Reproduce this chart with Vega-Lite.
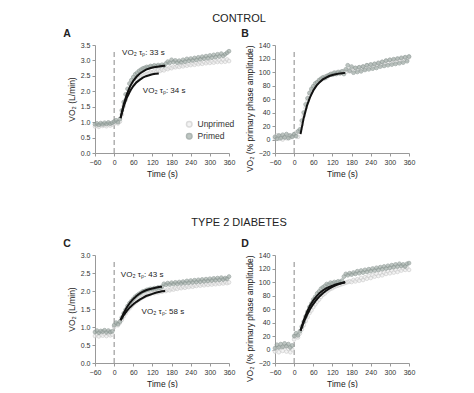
{
"$schema":"https://vega.github.io/schema/vega-lite/v6.json",
"padding":{"left":63,"top":12,"right":5,"bottom":0},
"background":"white",
"datasets":{
"zero":[{"p":"A","t":0,"v":0,"v2":3.35},{"p":"B","t":0,"v":-20,"v2":131},{"p":"C","t":0,"v":0,"v2":2.83},{"p":"D","t":0,"v":-20,"v2":132}],
"notes":[{"p":"A","t":25,"v":3.24,"s":"VO₂ τₚ: 33 s"},{"p":"A","t":90,"v":2.02,"s":"VO₂ τₚ: 34 s"},{"p":"C","t":21,"v":2.45,"s":"VO₂ τₚ: 43 s"},{"p":"C","t":86,"v":1.42,"s":"VO₂ τₚ: 58 s"}],
"fits":[
{"p":"A","c":"1","t":20,"v":1.13},{"p":"A","c":"1","t":30,"v":1.58},{"p":"A","c":"1","t":40,"v":1.91},{"p":"A","c":"1","t":50,"v":2.16},{"p":"A","c":"1","t":60,"v":2.34},{"p":"A","c":"1","t":70,"v":2.47},{"p":"A","c":"1","t":80,"v":2.57},{"p":"A","c":"1","t":90,"v":2.64},{"p":"A","c":"1","t":100,"v":2.7},{"p":"A","c":"1","t":110,"v":2.74},{"p":"A","c":"1","t":120,"v":2.77},{"p":"A","c":"1","t":130,"v":2.79},{"p":"A","c":"1","t":140,"v":2.8},{"p":"A","c":"1","t":150,"v":2.82},{"p":"A","c":"1","t":160,"v":2.83},
{"p":"A","c":"2","t":20,"v":1.13},{"p":"A","c":"2","t":30,"v":1.51},{"p":"A","c":"2","t":40,"v":1.8},{"p":"A","c":"2","t":50,"v":2.01},{"p":"A","c":"2","t":60,"v":2.17},{"p":"A","c":"2","t":70,"v":2.29},{"p":"A","c":"2","t":80,"v":2.37},{"p":"A","c":"2","t":90,"v":2.44},{"p":"A","c":"2","t":100,"v":2.49},{"p":"A","c":"2","t":110,"v":2.52},{"p":"A","c":"2","t":120,"v":2.55},{"p":"A","c":"2","t":130,"v":2.57},{"p":"A","c":"2","t":140,"v":2.58},
{"p":"B","c":"1","t":20,"v":8},{"p":"B","c":"1","t":30,"v":32},{"p":"B","c":"1","t":40,"v":49.8},{"p":"B","c":"1","t":50,"v":62.9},{"p":"B","c":"1","t":60,"v":72.6},{"p":"B","c":"1","t":70,"v":79.8},{"p":"B","c":"1","t":80,"v":85},{"p":"B","c":"1","t":90,"v":89},{"p":"B","c":"1","t":100,"v":91.8},{"p":"B","c":"1","t":110,"v":94},{"p":"B","c":"1","t":120,"v":95.6},{"p":"B","c":"1","t":130,"v":96.7},{"p":"B","c":"1","t":140,"v":97.6},{"p":"B","c":"1","t":150,"v":98.3},{"p":"B","c":"1","t":160,"v":98.7},
{"p":"C","c":"1","t":20,"v":1.19},{"p":"C","c":"1","t":30,"v":1.39},{"p":"C","c":"1","t":40,"v":1.55},{"p":"C","c":"1","t":50,"v":1.68},{"p":"C","c":"1","t":60,"v":1.78},{"p":"C","c":"1","t":70,"v":1.86},{"p":"C","c":"1","t":80,"v":1.93},{"p":"C","c":"1","t":90,"v":1.98},{"p":"C","c":"1","t":100,"v":2.02},{"p":"C","c":"1","t":110,"v":2.05},{"p":"C","c":"1","t":120,"v":2.07},{"p":"C","c":"1","t":130,"v":2.09},{"p":"C","c":"1","t":140,"v":2.11},{"p":"C","c":"1","t":150,"v":2.12},
{"p":"C","c":"2","t":20,"v":1.19},{"p":"C","c":"2","t":30,"v":1.33},{"p":"C","c":"2","t":40,"v":1.45},{"p":"C","c":"2","t":50,"v":1.55},{"p":"C","c":"2","t":60,"v":1.63},{"p":"C","c":"2","t":70,"v":1.7},{"p":"C","c":"2","t":80,"v":1.76},{"p":"C","c":"2","t":90,"v":1.81},{"p":"C","c":"2","t":100,"v":1.86},{"p":"C","c":"2","t":110,"v":1.89},{"p":"C","c":"2","t":120,"v":1.92},{"p":"C","c":"2","t":130,"v":1.95},{"p":"C","c":"2","t":140,"v":1.97},{"p":"C","c":"2","t":150,"v":1.99},{"p":"C","c":"2","t":160,"v":2.0},
{"p":"D","c":"1","t":20,"v":28},{"p":"D","c":"1","t":30,"v":43.4},{"p":"D","c":"1","t":40,"v":55.5},{"p":"D","c":"1","t":50,"v":65.1},{"p":"D","c":"1","t":60,"v":72.8},{"p":"D","c":"1","t":70,"v":78.8},{"p":"D","c":"1","t":80,"v":83.6},{"p":"D","c":"1","t":90,"v":87.5},{"p":"D","c":"1","t":100,"v":90.5},{"p":"D","c":"1","t":110,"v":92.9},{"p":"D","c":"1","t":120,"v":94.7},{"p":"D","c":"1","t":130,"v":96.3},{"p":"D","c":"1","t":140,"v":97.5},{"p":"D","c":"1","t":150,"v":98.4},{"p":"D","c":"1","t":160,"v":99.1},
{"p":"D","c":"2","t":20,"v":28},{"p":"D","c":"2","t":30,"v":40.6},{"p":"D","c":"2","t":40,"v":51.1},{"p":"D","c":"2","t":50,"v":59.9},{"p":"D","c":"2","t":60,"v":67.3},{"p":"D","c":"2","t":70,"v":73.7},{"p":"D","c":"2","t":80,"v":79},{"p":"D","c":"2","t":90,"v":83.4},{"p":"D","c":"2","t":100,"v":87.1},{"p":"D","c":"2","t":110,"v":90.3},{"p":"D","c":"2","t":120,"v":92.9},{"p":"D","c":"2","t":130,"v":95.2},{"p":"D","c":"2","t":140,"v":97},{"p":"D","c":"2","t":150,"v":98.6},{"p":"D","c":"2","t":160,"v":99.9}
],
"pts":[
{"p":"A","g":"Unprimed","t":-60,"v":0.86},{"p":"A","g":"Unprimed","t":-54,"v":0.9},{"p":"A","g":"Unprimed","t":-48,"v":0.85},{"p":"A","g":"Unprimed","t":-42,"v":0.92},{"p":"A","g":"Unprimed","t":-36,"v":0.88},{"p":"A","g":"Unprimed","t":-30,"v":0.91},{"p":"A","g":"Unprimed","t":-24,"v":0.87},{"p":"A","g":"Unprimed","t":-18,"v":0.93},{"p":"A","g":"Unprimed","t":-12,"v":0.89},{"p":"A","g":"Unprimed","t":-6,"v":0.92},{"p":"A","g":"Unprimed","t":0,"v":0.95},{"p":"A","g":"Unprimed","t":6,"v":1.0},{"p":"A","g":"Unprimed","t":12,"v":0.96},{"p":"A","g":"Unprimed","t":18,"v":1.02},{"p":"A","g":"Unprimed","t":24,"v":1.25},{"p":"A","g":"Unprimed","t":30,"v":1.52},{"p":"A","g":"Unprimed","t":36,"v":1.72},{"p":"A","g":"Unprimed","t":42,"v":1.9},{"p":"A","g":"Unprimed","t":48,"v":2.02},{"p":"A","g":"Unprimed","t":54,"v":2.15},{"p":"A","g":"Unprimed","t":60,"v":2.22},{"p":"A","g":"Unprimed","t":66,"v":2.3},{"p":"A","g":"Unprimed","t":72,"v":2.36},{"p":"A","g":"Unprimed","t":78,"v":2.42},{"p":"A","g":"Unprimed","t":84,"v":2.45},{"p":"A","g":"Unprimed","t":90,"v":2.5},{"p":"A","g":"Unprimed","t":96,"v":2.53},{"p":"A","g":"Unprimed","t":102,"v":2.56},{"p":"A","g":"Unprimed","t":108,"v":2.58},{"p":"A","g":"Unprimed","t":114,"v":2.62},{"p":"A","g":"Unprimed","t":120,"v":2.6},{"p":"A","g":"Unprimed","t":126,"v":2.65},{"p":"A","g":"Unprimed","t":132,"v":2.63},{"p":"A","g":"Unprimed","t":138,"v":2.68},{"p":"A","g":"Unprimed","t":144,"v":2.66},{"p":"A","g":"Unprimed","t":150,"v":2.7},{"p":"A","g":"Unprimed","t":156,"v":2.68},{"p":"A","g":"Unprimed","t":162,"v":2.74},{"p":"A","g":"Unprimed","t":168,"v":2.72},{"p":"A","g":"Unprimed","t":174,"v":2.77},{"p":"A","g":"Unprimed","t":180,"v":2.75},{"p":"A","g":"Unprimed","t":186,"v":2.8},{"p":"A","g":"Unprimed","t":192,"v":2.78},{"p":"A","g":"Unprimed","t":198,"v":2.82},{"p":"A","g":"Unprimed","t":204,"v":2.79},{"p":"A","g":"Unprimed","t":210,"v":2.84},{"p":"A","g":"Unprimed","t":216,"v":2.81},{"p":"A","g":"Unprimed","t":222,"v":2.86},{"p":"A","g":"Unprimed","t":228,"v":2.83},{"p":"A","g":"Unprimed","t":234,"v":2.88},{"p":"A","g":"Unprimed","t":240,"v":2.85},{"p":"A","g":"Unprimed","t":246,"v":2.9},{"p":"A","g":"Unprimed","t":252,"v":2.86},{"p":"A","g":"Unprimed","t":258,"v":2.92},{"p":"A","g":"Unprimed","t":264,"v":2.88},{"p":"A","g":"Unprimed","t":270,"v":2.93},{"p":"A","g":"Unprimed","t":276,"v":2.89},{"p":"A","g":"Unprimed","t":282,"v":2.95},{"p":"A","g":"Unprimed","t":288,"v":2.91},{"p":"A","g":"Unprimed","t":294,"v":2.96},{"p":"A","g":"Unprimed","t":300,"v":2.92},{"p":"A","g":"Unprimed","t":306,"v":2.97},{"p":"A","g":"Unprimed","t":312,"v":2.93},{"p":"A","g":"Unprimed","t":318,"v":2.99},{"p":"A","g":"Unprimed","t":324,"v":2.95},{"p":"A","g":"Unprimed","t":330,"v":3.0},{"p":"A","g":"Unprimed","t":336,"v":2.95},{"p":"A","g":"Unprimed","t":342,"v":3.02},{"p":"A","g":"Unprimed","t":348,"v":2.96},{"p":"A","g":"Unprimed","t":354,"v":3.03},{"p":"A","g":"Unprimed","t":360,"v":2.98},
{"p":"A","g":"Primed","t":-60,"v":0.93},{"p":"A","g":"Primed","t":-54,"v":0.96},{"p":"A","g":"Primed","t":-48,"v":0.91},{"p":"A","g":"Primed","t":-42,"v":0.97},{"p":"A","g":"Primed","t":-36,"v":0.93},{"p":"A","g":"Primed","t":-30,"v":0.98},{"p":"A","g":"Primed","t":-24,"v":0.94},{"p":"A","g":"Primed","t":-18,"v":0.99},{"p":"A","g":"Primed","t":-12,"v":0.95},{"p":"A","g":"Primed","t":-6,"v":0.98},{"p":"A","g":"Primed","t":0,"v":1.02},{"p":"A","g":"Primed","t":6,"v":1.06},{"p":"A","g":"Primed","t":12,"v":1.0},{"p":"A","g":"Primed","t":18,"v":1.1},{"p":"A","g":"Primed","t":24,"v":1.38},{"p":"A","g":"Primed","t":30,"v":1.65},{"p":"A","g":"Primed","t":36,"v":1.9},{"p":"A","g":"Primed","t":42,"v":2.08},{"p":"A","g":"Primed","t":48,"v":2.25},{"p":"A","g":"Primed","t":54,"v":2.36},{"p":"A","g":"Primed","t":60,"v":2.46},{"p":"A","g":"Primed","t":66,"v":2.55},{"p":"A","g":"Primed","t":72,"v":2.6},{"p":"A","g":"Primed","t":78,"v":2.66},{"p":"A","g":"Primed","t":84,"v":2.7},{"p":"A","g":"Primed","t":90,"v":2.74},{"p":"A","g":"Primed","t":96,"v":2.76},{"p":"A","g":"Primed","t":102,"v":2.79},{"p":"A","g":"Primed","t":108,"v":2.78},{"p":"A","g":"Primed","t":114,"v":2.82},{"p":"A","g":"Primed","t":120,"v":2.8},{"p":"A","g":"Primed","t":126,"v":2.84},{"p":"A","g":"Primed","t":132,"v":2.81},{"p":"A","g":"Primed","t":138,"v":2.85},{"p":"A","g":"Primed","t":144,"v":2.82},{"p":"A","g":"Primed","t":150,"v":2.86},{"p":"A","g":"Primed","t":156,"v":2.83},{"p":"A","g":"Primed","t":162,"v":2.9},{"p":"A","g":"Primed","t":168,"v":2.96},{"p":"A","g":"Primed","t":174,"v":2.92},{"p":"A","g":"Primed","t":180,"v":3.02},{"p":"A","g":"Primed","t":186,"v":2.95},{"p":"A","g":"Primed","t":192,"v":3.0},{"p":"A","g":"Primed","t":198,"v":2.93},{"p":"A","g":"Primed","t":204,"v":2.99},{"p":"A","g":"Primed","t":210,"v":2.94},{"p":"A","g":"Primed","t":216,"v":3.02},{"p":"A","g":"Primed","t":222,"v":2.96},{"p":"A","g":"Primed","t":228,"v":3.05},{"p":"A","g":"Primed","t":234,"v":2.99},{"p":"A","g":"Primed","t":240,"v":3.06},{"p":"A","g":"Primed","t":246,"v":3.0},{"p":"A","g":"Primed","t":252,"v":3.08},{"p":"A","g":"Primed","t":258,"v":3.02},{"p":"A","g":"Primed","t":264,"v":3.1},{"p":"A","g":"Primed","t":270,"v":3.04},{"p":"A","g":"Primed","t":276,"v":3.12},{"p":"A","g":"Primed","t":282,"v":3.06},{"p":"A","g":"Primed","t":288,"v":3.14},{"p":"A","g":"Primed","t":294,"v":3.07},{"p":"A","g":"Primed","t":300,"v":3.16},{"p":"A","g":"Primed","t":306,"v":3.09},{"p":"A","g":"Primed","t":312,"v":3.18},{"p":"A","g":"Primed","t":318,"v":3.11},{"p":"A","g":"Primed","t":324,"v":3.2},{"p":"A","g":"Primed","t":330,"v":3.13},{"p":"A","g":"Primed","t":336,"v":3.22},{"p":"A","g":"Primed","t":342,"v":3.15},{"p":"A","g":"Primed","t":348,"v":3.2},{"p":"A","g":"Primed","t":354,"v":3.25},{"p":"A","g":"Primed","t":360,"v":3.3},
{"p":"B","g":"Unprimed","t":-60,"v":2},{"p":"B","g":"Unprimed","t":-54,"v":6},{"p":"B","g":"Unprimed","t":-48,"v":1},{"p":"B","g":"Unprimed","t":-42,"v":5},{"p":"B","g":"Unprimed","t":-36,"v":0},{"p":"B","g":"Unprimed","t":-30,"v":4},{"p":"B","g":"Unprimed","t":-24,"v":2},{"p":"B","g":"Unprimed","t":-18,"v":6},{"p":"B","g":"Unprimed","t":-12,"v":3},{"p":"B","g":"Unprimed","t":-6,"v":5},{"p":"B","g":"Unprimed","t":0,"v":6},{"p":"B","g":"Unprimed","t":6,"v":10},{"p":"B","g":"Unprimed","t":12,"v":4},{"p":"B","g":"Unprimed","t":18,"v":12},{"p":"B","g":"Unprimed","t":24,"v":22},{"p":"B","g":"Unprimed","t":30,"v":35},{"p":"B","g":"Unprimed","t":36,"v":47},{"p":"B","g":"Unprimed","t":42,"v":57},{"p":"B","g":"Unprimed","t":48,"v":65},{"p":"B","g":"Unprimed","t":54,"v":72},{"p":"B","g":"Unprimed","t":60,"v":76},{"p":"B","g":"Unprimed","t":66,"v":80},{"p":"B","g":"Unprimed","t":72,"v":84},{"p":"B","g":"Unprimed","t":78,"v":86},{"p":"B","g":"Unprimed","t":84,"v":89},{"p":"B","g":"Unprimed","t":90,"v":90},{"p":"B","g":"Unprimed","t":96,"v":93},{"p":"B","g":"Unprimed","t":102,"v":92},{"p":"B","g":"Unprimed","t":108,"v":95},{"p":"B","g":"Unprimed","t":114,"v":96},{"p":"B","g":"Unprimed","t":120,"v":98},{"p":"B","g":"Unprimed","t":126,"v":97},{"p":"B","g":"Unprimed","t":132,"v":99},{"p":"B","g":"Unprimed","t":138,"v":98},{"p":"B","g":"Unprimed","t":144,"v":100},{"p":"B","g":"Unprimed","t":150,"v":99},{"p":"B","g":"Unprimed","t":156,"v":101},{"p":"B","g":"Unprimed","t":162,"v":100},{"p":"B","g":"Unprimed","t":168,"v":103},{"p":"B","g":"Unprimed","t":174,"v":101},{"p":"B","g":"Unprimed","t":180,"v":105},{"p":"B","g":"Unprimed","t":186,"v":102},{"p":"B","g":"Unprimed","t":192,"v":106},{"p":"B","g":"Unprimed","t":198,"v":103},{"p":"B","g":"Unprimed","t":204,"v":107},{"p":"B","g":"Unprimed","t":210,"v":104},{"p":"B","g":"Unprimed","t":216,"v":108},{"p":"B","g":"Unprimed","t":222,"v":105},{"p":"B","g":"Unprimed","t":228,"v":110},{"p":"B","g":"Unprimed","t":234,"v":107},{"p":"B","g":"Unprimed","t":240,"v":111},{"p":"B","g":"Unprimed","t":246,"v":108},{"p":"B","g":"Unprimed","t":252,"v":112},{"p":"B","g":"Unprimed","t":258,"v":110},{"p":"B","g":"Unprimed","t":264,"v":114},{"p":"B","g":"Unprimed","t":270,"v":111},{"p":"B","g":"Unprimed","t":276,"v":115},{"p":"B","g":"Unprimed","t":282,"v":112},{"p":"B","g":"Unprimed","t":288,"v":116},{"p":"B","g":"Unprimed","t":294,"v":113},{"p":"B","g":"Unprimed","t":300,"v":118},{"p":"B","g":"Unprimed","t":306,"v":114},{"p":"B","g":"Unprimed","t":312,"v":117},{"p":"B","g":"Unprimed","t":318,"v":115},{"p":"B","g":"Unprimed","t":324,"v":119},{"p":"B","g":"Unprimed","t":330,"v":116},{"p":"B","g":"Unprimed","t":336,"v":120},{"p":"B","g":"Unprimed","t":342,"v":117},{"p":"B","g":"Unprimed","t":348,"v":121},{"p":"B","g":"Unprimed","t":354,"v":118},{"p":"B","g":"Unprimed","t":360,"v":122},
{"p":"B","g":"Primed","t":-60,"v":4},{"p":"B","g":"Primed","t":-54,"v":1},{"p":"B","g":"Primed","t":-48,"v":6},{"p":"B","g":"Primed","t":-42,"v":2},{"p":"B","g":"Primed","t":-36,"v":7},{"p":"B","g":"Primed","t":-30,"v":3},{"p":"B","g":"Primed","t":-24,"v":8},{"p":"B","g":"Primed","t":-18,"v":2},{"p":"B","g":"Primed","t":-12,"v":6},{"p":"B","g":"Primed","t":-6,"v":4},{"p":"B","g":"Primed","t":0,"v":8},{"p":"B","g":"Primed","t":6,"v":5},{"p":"B","g":"Primed","t":12,"v":12},{"p":"B","g":"Primed","t":18,"v":15},{"p":"B","g":"Primed","t":24,"v":28},{"p":"B","g":"Primed","t":30,"v":40},{"p":"B","g":"Primed","t":36,"v":52},{"p":"B","g":"Primed","t":42,"v":61},{"p":"B","g":"Primed","t":48,"v":69},{"p":"B","g":"Primed","t":54,"v":75},{"p":"B","g":"Primed","t":60,"v":79},{"p":"B","g":"Primed","t":66,"v":83},{"p":"B","g":"Primed","t":72,"v":85},{"p":"B","g":"Primed","t":78,"v":88},{"p":"B","g":"Primed","t":84,"v":90},{"p":"B","g":"Primed","t":90,"v":92},{"p":"B","g":"Primed","t":96,"v":91},{"p":"B","g":"Primed","t":102,"v":94},{"p":"B","g":"Primed","t":108,"v":95},{"p":"B","g":"Primed","t":114,"v":97},{"p":"B","g":"Primed","t":120,"v":96},{"p":"B","g":"Primed","t":126,"v":99},{"p":"B","g":"Primed","t":132,"v":97},{"p":"B","g":"Primed","t":138,"v":100},{"p":"B","g":"Primed","t":144,"v":98},{"p":"B","g":"Primed","t":150,"v":101},{"p":"B","g":"Primed","t":156,"v":97},{"p":"B","g":"Primed","t":162,"v":104},{"p":"B","g":"Primed","t":168,"v":110},{"p":"B","g":"Primed","t":174,"v":102},{"p":"B","g":"Primed","t":180,"v":108},{"p":"B","g":"Primed","t":186,"v":99},{"p":"B","g":"Primed","t":192,"v":106},{"p":"B","g":"Primed","t":198,"v":100},{"p":"B","g":"Primed","t":204,"v":107},{"p":"B","g":"Primed","t":210,"v":101},{"p":"B","g":"Primed","t":216,"v":108},{"p":"B","g":"Primed","t":222,"v":103},{"p":"B","g":"Primed","t":228,"v":110},{"p":"B","g":"Primed","t":234,"v":104},{"p":"B","g":"Primed","t":240,"v":111},{"p":"B","g":"Primed","t":246,"v":105},{"p":"B","g":"Primed","t":252,"v":112},{"p":"B","g":"Primed","t":258,"v":106},{"p":"B","g":"Primed","t":264,"v":113},{"p":"B","g":"Primed","t":270,"v":108},{"p":"B","g":"Primed","t":276,"v":115},{"p":"B","g":"Primed","t":282,"v":109},{"p":"B","g":"Primed","t":288,"v":117},{"p":"B","g":"Primed","t":294,"v":110},{"p":"B","g":"Primed","t":300,"v":118},{"p":"B","g":"Primed","t":306,"v":111},{"p":"B","g":"Primed","t":312,"v":119},{"p":"B","g":"Primed","t":318,"v":112},{"p":"B","g":"Primed","t":324,"v":120},{"p":"B","g":"Primed","t":330,"v":113},{"p":"B","g":"Primed","t":336,"v":121},{"p":"B","g":"Primed","t":342,"v":114},{"p":"B","g":"Primed","t":348,"v":122},{"p":"B","g":"Primed","t":354,"v":116},{"p":"B","g":"Primed","t":360,"v":123},
{"p":"C","g":"Unprimed","t":-60,"v":0.75},{"p":"C","g":"Unprimed","t":-54,"v":0.8},{"p":"C","g":"Unprimed","t":-48,"v":0.74},{"p":"C","g":"Unprimed","t":-42,"v":0.79},{"p":"C","g":"Unprimed","t":-36,"v":0.76},{"p":"C","g":"Unprimed","t":-30,"v":0.81},{"p":"C","g":"Unprimed","t":-24,"v":0.75},{"p":"C","g":"Unprimed","t":-18,"v":0.8},{"p":"C","g":"Unprimed","t":-12,"v":0.77},{"p":"C","g":"Unprimed","t":-6,"v":0.79},{"p":"C","g":"Unprimed","t":0,"v":1.0},{"p":"C","g":"Unprimed","t":6,"v":1.08},{"p":"C","g":"Unprimed","t":12,"v":1.05},{"p":"C","g":"Unprimed","t":18,"v":1.12},{"p":"C","g":"Unprimed","t":24,"v":1.2},{"p":"C","g":"Unprimed","t":30,"v":1.3},{"p":"C","g":"Unprimed","t":36,"v":1.38},{"p":"C","g":"Unprimed","t":42,"v":1.46},{"p":"C","g":"Unprimed","t":48,"v":1.52},{"p":"C","g":"Unprimed","t":54,"v":1.58},{"p":"C","g":"Unprimed","t":60,"v":1.64},{"p":"C","g":"Unprimed","t":66,"v":1.68},{"p":"C","g":"Unprimed","t":72,"v":1.73},{"p":"C","g":"Unprimed","t":78,"v":1.76},{"p":"C","g":"Unprimed","t":84,"v":1.8},{"p":"C","g":"Unprimed","t":90,"v":1.83},{"p":"C","g":"Unprimed","t":96,"v":1.86},{"p":"C","g":"Unprimed","t":102,"v":1.88},{"p":"C","g":"Unprimed","t":108,"v":1.91},{"p":"C","g":"Unprimed","t":114,"v":1.92},{"p":"C","g":"Unprimed","t":120,"v":1.95},{"p":"C","g":"Unprimed","t":126,"v":1.94},{"p":"C","g":"Unprimed","t":132,"v":1.97},{"p":"C","g":"Unprimed","t":138,"v":1.96},{"p":"C","g":"Unprimed","t":144,"v":1.99},{"p":"C","g":"Unprimed","t":150,"v":1.98},{"p":"C","g":"Unprimed","t":156,"v":2.01},{"p":"C","g":"Unprimed","t":162,"v":2.0},{"p":"C","g":"Unprimed","t":168,"v":2.04},{"p":"C","g":"Unprimed","t":174,"v":2.02},{"p":"C","g":"Unprimed","t":180,"v":2.06},{"p":"C","g":"Unprimed","t":186,"v":2.04},{"p":"C","g":"Unprimed","t":192,"v":2.08},{"p":"C","g":"Unprimed","t":198,"v":2.06},{"p":"C","g":"Unprimed","t":204,"v":2.1},{"p":"C","g":"Unprimed","t":210,"v":2.08},{"p":"C","g":"Unprimed","t":216,"v":2.12},{"p":"C","g":"Unprimed","t":222,"v":2.09},{"p":"C","g":"Unprimed","t":228,"v":2.13},{"p":"C","g":"Unprimed","t":234,"v":2.11},{"p":"C","g":"Unprimed","t":240,"v":2.15},{"p":"C","g":"Unprimed","t":246,"v":2.12},{"p":"C","g":"Unprimed","t":252,"v":2.16},{"p":"C","g":"Unprimed","t":258,"v":2.14},{"p":"C","g":"Unprimed","t":264,"v":2.18},{"p":"C","g":"Unprimed","t":270,"v":2.15},{"p":"C","g":"Unprimed","t":276,"v":2.19},{"p":"C","g":"Unprimed","t":282,"v":2.16},{"p":"C","g":"Unprimed","t":288,"v":2.2},{"p":"C","g":"Unprimed","t":294,"v":2.17},{"p":"C","g":"Unprimed","t":300,"v":2.21},{"p":"C","g":"Unprimed","t":306,"v":2.18},{"p":"C","g":"Unprimed","t":312,"v":2.22},{"p":"C","g":"Unprimed","t":318,"v":2.19},{"p":"C","g":"Unprimed","t":324,"v":2.23},{"p":"C","g":"Unprimed","t":330,"v":2.2},{"p":"C","g":"Unprimed","t":336,"v":2.24},{"p":"C","g":"Unprimed","t":342,"v":2.21},{"p":"C","g":"Unprimed","t":348,"v":2.25},{"p":"C","g":"Unprimed","t":354,"v":2.22},{"p":"C","g":"Unprimed","t":360,"v":2.24},
{"p":"C","g":"Primed","t":-60,"v":0.86},{"p":"C","g":"Primed","t":-54,"v":0.9},{"p":"C","g":"Primed","t":-48,"v":0.84},{"p":"C","g":"Primed","t":-42,"v":0.89},{"p":"C","g":"Primed","t":-36,"v":0.87},{"p":"C","g":"Primed","t":-30,"v":0.91},{"p":"C","g":"Primed","t":-24,"v":0.85},{"p":"C","g":"Primed","t":-18,"v":0.9},{"p":"C","g":"Primed","t":-12,"v":0.86},{"p":"C","g":"Primed","t":-6,"v":0.88},{"p":"C","g":"Primed","t":0,"v":1.05},{"p":"C","g":"Primed","t":6,"v":1.12},{"p":"C","g":"Primed","t":12,"v":1.08},{"p":"C","g":"Primed","t":18,"v":1.15},{"p":"C","g":"Primed","t":24,"v":1.26},{"p":"C","g":"Primed","t":30,"v":1.38},{"p":"C","g":"Primed","t":36,"v":1.48},{"p":"C","g":"Primed","t":42,"v":1.58},{"p":"C","g":"Primed","t":48,"v":1.66},{"p":"C","g":"Primed","t":54,"v":1.72},{"p":"C","g":"Primed","t":60,"v":1.78},{"p":"C","g":"Primed","t":66,"v":1.84},{"p":"C","g":"Primed","t":72,"v":1.88},{"p":"C","g":"Primed","t":78,"v":1.92},{"p":"C","g":"Primed","t":84,"v":1.95},{"p":"C","g":"Primed","t":90,"v":1.99},{"p":"C","g":"Primed","t":96,"v":2.0},{"p":"C","g":"Primed","t":102,"v":2.03},{"p":"C","g":"Primed","t":108,"v":2.04},{"p":"C","g":"Primed","t":114,"v":2.06},{"p":"C","g":"Primed","t":120,"v":2.05},{"p":"C","g":"Primed","t":126,"v":2.08},{"p":"C","g":"Primed","t":132,"v":2.07},{"p":"C","g":"Primed","t":138,"v":2.1},{"p":"C","g":"Primed","t":144,"v":2.09},{"p":"C","g":"Primed","t":150,"v":2.12},{"p":"C","g":"Primed","t":156,"v":2.2},{"p":"C","g":"Primed","t":162,"v":2.17},{"p":"C","g":"Primed","t":168,"v":2.22},{"p":"C","g":"Primed","t":174,"v":2.18},{"p":"C","g":"Primed","t":180,"v":2.23},{"p":"C","g":"Primed","t":186,"v":2.19},{"p":"C","g":"Primed","t":192,"v":2.24},{"p":"C","g":"Primed","t":198,"v":2.2},{"p":"C","g":"Primed","t":204,"v":2.25},{"p":"C","g":"Primed","t":210,"v":2.21},{"p":"C","g":"Primed","t":216,"v":2.26},{"p":"C","g":"Primed","t":222,"v":2.22},{"p":"C","g":"Primed","t":228,"v":2.28},{"p":"C","g":"Primed","t":234,"v":2.23},{"p":"C","g":"Primed","t":240,"v":2.29},{"p":"C","g":"Primed","t":246,"v":2.24},{"p":"C","g":"Primed","t":252,"v":2.3},{"p":"C","g":"Primed","t":258,"v":2.25},{"p":"C","g":"Primed","t":264,"v":2.31},{"p":"C","g":"Primed","t":270,"v":2.26},{"p":"C","g":"Primed","t":276,"v":2.32},{"p":"C","g":"Primed","t":282,"v":2.27},{"p":"C","g":"Primed","t":288,"v":2.33},{"p":"C","g":"Primed","t":294,"v":2.28},{"p":"C","g":"Primed","t":300,"v":2.34},{"p":"C","g":"Primed","t":306,"v":2.29},{"p":"C","g":"Primed","t":312,"v":2.35},{"p":"C","g":"Primed","t":318,"v":2.3},{"p":"C","g":"Primed","t":324,"v":2.36},{"p":"C","g":"Primed","t":330,"v":2.31},{"p":"C","g":"Primed","t":336,"v":2.37},{"p":"C","g":"Primed","t":342,"v":2.32},{"p":"C","g":"Primed","t":348,"v":2.36},{"p":"C","g":"Primed","t":354,"v":2.34},{"p":"C","g":"Primed","t":360,"v":2.4},
{"p":"D","g":"Unprimed","t":-60,"v":-3},{"p":"D","g":"Unprimed","t":-54,"v":2},{"p":"D","g":"Unprimed","t":-48,"v":-4},{"p":"D","g":"Unprimed","t":-42,"v":3},{"p":"D","g":"Unprimed","t":-36,"v":-2},{"p":"D","g":"Unprimed","t":-30,"v":4},{"p":"D","g":"Unprimed","t":-24,"v":-3},{"p":"D","g":"Unprimed","t":-18,"v":1},{"p":"D","g":"Unprimed","t":-12,"v":-4},{"p":"D","g":"Unprimed","t":-6,"v":0},{"p":"D","g":"Unprimed","t":0,"v":15},{"p":"D","g":"Unprimed","t":6,"v":20},{"p":"D","g":"Unprimed","t":12,"v":18},{"p":"D","g":"Unprimed","t":18,"v":24},{"p":"D","g":"Unprimed","t":24,"v":30},{"p":"D","g":"Unprimed","t":30,"v":36},{"p":"D","g":"Unprimed","t":36,"v":42},{"p":"D","g":"Unprimed","t":42,"v":48},{"p":"D","g":"Unprimed","t":48,"v":54},{"p":"D","g":"Unprimed","t":54,"v":58},{"p":"D","g":"Unprimed","t":60,"v":63},{"p":"D","g":"Unprimed","t":66,"v":67},{"p":"D","g":"Unprimed","t":72,"v":71},{"p":"D","g":"Unprimed","t":78,"v":74},{"p":"D","g":"Unprimed","t":84,"v":78},{"p":"D","g":"Unprimed","t":90,"v":81},{"p":"D","g":"Unprimed","t":96,"v":83},{"p":"D","g":"Unprimed","t":102,"v":86},{"p":"D","g":"Unprimed","t":108,"v":88},{"p":"D","g":"Unprimed","t":114,"v":90},{"p":"D","g":"Unprimed","t":120,"v":91},{"p":"D","g":"Unprimed","t":126,"v":93},{"p":"D","g":"Unprimed","t":132,"v":94},{"p":"D","g":"Unprimed","t":138,"v":95},{"p":"D","g":"Unprimed","t":144,"v":96},{"p":"D","g":"Unprimed","t":150,"v":97},{"p":"D","g":"Unprimed","t":156,"v":98},{"p":"D","g":"Unprimed","t":162,"v":99},{"p":"D","g":"Unprimed","t":168,"v":100},{"p":"D","g":"Unprimed","t":174,"v":101},{"p":"D","g":"Unprimed","t":180,"v":100},{"p":"D","g":"Unprimed","t":186,"v":103},{"p":"D","g":"Unprimed","t":192,"v":101},{"p":"D","g":"Unprimed","t":198,"v":104},{"p":"D","g":"Unprimed","t":204,"v":102},{"p":"D","g":"Unprimed","t":210,"v":106},{"p":"D","g":"Unprimed","t":216,"v":103},{"p":"D","g":"Unprimed","t":222,"v":107},{"p":"D","g":"Unprimed","t":228,"v":105},{"p":"D","g":"Unprimed","t":234,"v":109},{"p":"D","g":"Unprimed","t":240,"v":106},{"p":"D","g":"Unprimed","t":246,"v":110},{"p":"D","g":"Unprimed","t":252,"v":108},{"p":"D","g":"Unprimed","t":258,"v":112},{"p":"D","g":"Unprimed","t":264,"v":109},{"p":"D","g":"Unprimed","t":270,"v":113},{"p":"D","g":"Unprimed","t":276,"v":110},{"p":"D","g":"Unprimed","t":282,"v":114},{"p":"D","g":"Unprimed","t":288,"v":112},{"p":"D","g":"Unprimed","t":294,"v":116},{"p":"D","g":"Unprimed","t":300,"v":113},{"p":"D","g":"Unprimed","t":306,"v":117},{"p":"D","g":"Unprimed","t":312,"v":114},{"p":"D","g":"Unprimed","t":318,"v":118},{"p":"D","g":"Unprimed","t":324,"v":115},{"p":"D","g":"Unprimed","t":330,"v":119},{"p":"D","g":"Unprimed","t":336,"v":117},{"p":"D","g":"Unprimed","t":342,"v":120},{"p":"D","g":"Unprimed","t":348,"v":118},{"p":"D","g":"Unprimed","t":354,"v":121},{"p":"D","g":"Unprimed","t":360,"v":118},
{"p":"D","g":"Primed","t":-60,"v":2},{"p":"D","g":"Primed","t":-54,"v":7},{"p":"D","g":"Primed","t":-48,"v":3},{"p":"D","g":"Primed","t":-42,"v":8},{"p":"D","g":"Primed","t":-36,"v":4},{"p":"D","g":"Primed","t":-30,"v":9},{"p":"D","g":"Primed","t":-24,"v":5},{"p":"D","g":"Primed","t":-18,"v":8},{"p":"D","g":"Primed","t":-12,"v":3},{"p":"D","g":"Primed","t":-6,"v":6},{"p":"D","g":"Primed","t":0,"v":20},{"p":"D","g":"Primed","t":6,"v":24},{"p":"D","g":"Primed","t":12,"v":21},{"p":"D","g":"Primed","t":18,"v":27},{"p":"D","g":"Primed","t":24,"v":34},{"p":"D","g":"Primed","t":30,"v":41},{"p":"D","g":"Primed","t":36,"v":49},{"p":"D","g":"Primed","t":42,"v":56},{"p":"D","g":"Primed","t":48,"v":63},{"p":"D","g":"Primed","t":54,"v":68},{"p":"D","g":"Primed","t":60,"v":74},{"p":"D","g":"Primed","t":66,"v":78},{"p":"D","g":"Primed","t":72,"v":83},{"p":"D","g":"Primed","t":78,"v":86},{"p":"D","g":"Primed","t":84,"v":90},{"p":"D","g":"Primed","t":90,"v":92},{"p":"D","g":"Primed","t":96,"v":94},{"p":"D","g":"Primed","t":102,"v":97},{"p":"D","g":"Primed","t":108,"v":96},{"p":"D","g":"Primed","t":114,"v":99},{"p":"D","g":"Primed","t":120,"v":98},{"p":"D","g":"Primed","t":126,"v":100},{"p":"D","g":"Primed","t":132,"v":99},{"p":"D","g":"Primed","t":138,"v":101},{"p":"D","g":"Primed","t":144,"v":100},{"p":"D","g":"Primed","t":150,"v":102},{"p":"D","g":"Primed","t":156,"v":108},{"p":"D","g":"Primed","t":162,"v":112},{"p":"D","g":"Primed","t":168,"v":110},{"p":"D","g":"Primed","t":174,"v":113},{"p":"D","g":"Primed","t":180,"v":111},{"p":"D","g":"Primed","t":186,"v":114},{"p":"D","g":"Primed","t":192,"v":112},{"p":"D","g":"Primed","t":198,"v":116},{"p":"D","g":"Primed","t":204,"v":113},{"p":"D","g":"Primed","t":210,"v":117},{"p":"D","g":"Primed","t":216,"v":114},{"p":"D","g":"Primed","t":222,"v":118},{"p":"D","g":"Primed","t":228,"v":115},{"p":"D","g":"Primed","t":234,"v":119},{"p":"D","g":"Primed","t":240,"v":116},{"p":"D","g":"Primed","t":246,"v":120},{"p":"D","g":"Primed","t":252,"v":117},{"p":"D","g":"Primed","t":258,"v":121},{"p":"D","g":"Primed","t":264,"v":118},{"p":"D","g":"Primed","t":270,"v":122},{"p":"D","g":"Primed","t":276,"v":119},{"p":"D","g":"Primed","t":282,"v":123},{"p":"D","g":"Primed","t":288,"v":120},{"p":"D","g":"Primed","t":294,"v":124},{"p":"D","g":"Primed","t":300,"v":121},{"p":"D","g":"Primed","t":306,"v":125},{"p":"D","g":"Primed","t":312,"v":122},{"p":"D","g":"Primed","t":318,"v":126},{"p":"D","g":"Primed","t":324,"v":123},{"p":"D","g":"Primed","t":330,"v":127},{"p":"D","g":"Primed","t":336,"v":124},{"p":"D","g":"Primed","t":342,"v":126},{"p":"D","g":"Primed","t":348,"v":123},{"p":"D","g":"Primed","t":354,"v":127},{"p":"D","g":"Primed","t":360,"v":128}
]
},
"resolve":{"scale":{"fill":"independent","stroke":"independent"}},
"spacing":38,
"vconcat":[
{"title":{"text":"CONTROL","anchor":"middle","frame":"bounds","fontSize":11,"fontWeight":"normal","offset":5},
 "resolve":{"scale":{"fill":"independent","stroke":"independent"}},
 "spacing":6,
 "hconcat":[
  {"width":134,"height":108,
   "title":{"text":"A","anchor":"start","frame":"bounds","fontSize":10.5,"fontWeight":"bold","offset":2,"dx":-4},
   "encoding":{
    "x":{"field":"t","type":"quantitative","scale":{"domain":[-60,360],"nice":false},"axis":{"values":[-60,0,60,120,180,240,300,360],"title":"Time (s)"}},
    "y":{"field":"v","type":"quantitative","scale":{"domain":[0,3.5],"nice":false},"axis":{"values":[0,0.5,1,1.5,2,2.5,3,3.5],"format":".1f","title":"VO₂ (L/min)"}}},
   "layer":[
    {"data":{"name":"zero"},"transform":[{"filter":"datum.p=='A'"}],"mark":{"type":"rule","strokeDash":[5,3],"color":"#888","strokeWidth":1},"encoding":{"y2":{"field":"v2"}}},
    {"data":{"name":"pts"},"transform":[{"filter":"datum.p=='A'"}],"mark":{"type":"point","shape":"circle","filled":false,"size":14,"strokeWidth":1},
     "encoding":{"fill":{"field":"g","type":"nominal","scale":{"domain":["Unprimed","Primed"],"range":["#eeeeee","#a3aea9"]},"legend":{"orient":"none","legendX":90,"legendY":75,"title":null,"labelFontSize":8.5,"symbolSize":30,"rowPadding":0,"labelColor":"#333"}},
      "stroke":{"field":"g","type":"nominal","scale":{"domain":["Unprimed","Primed"],"range":["#cccccc","#8c9894"]}},"order":{"field":"g","sort":"descending"}}},
    {"data":{"name":"fits"},"transform":[{"filter":"datum.p=='A'"}],"mark":{"type":"line","color":"#111","strokeWidth":2},"encoding":{"detail":{"field":"c"}}},
    {"data":{"name":"notes"},"transform":[{"filter":"datum.p=='A'"}],"mark":{"type":"text","align":"left","baseline":"middle","fontSize":8,"color":"#222"},"encoding":{"text":{"field":"s"}}}
   ]},
  {"width":134,"height":108,
   "title":{"text":"B","anchor":"start","frame":"bounds","fontSize":10.5,"fontWeight":"bold","offset":2,"dx":-4},
   "encoding":{
    "x":{"field":"t","type":"quantitative","scale":{"domain":[-60,360],"nice":false},"axis":{"values":[-60,0,60,120,180,240,300,360],"title":"Time (s)"}},
    "y":{"field":"v","type":"quantitative","scale":{"domain":[-20,140],"nice":false},"axis":{"values":[-20,0,20,40,60,80,100,120,140],"title":"VO₂ (% primary phase amplitude)","titleAnchor":"end"}}},
   "layer":[
    {"data":{"name":"zero"},"transform":[{"filter":"datum.p=='B'"}],"mark":{"type":"rule","strokeDash":[5,3],"color":"#888","strokeWidth":1},"encoding":{"y2":{"field":"v2"}}},
    {"data":{"name":"pts"},"transform":[{"filter":"datum.p=='B'"}],"mark":{"type":"point","shape":"circle","filled":false,"size":14,"strokeWidth":1},
     "encoding":{"fill":{"field":"g","type":"nominal","scale":{"domain":["Unprimed","Primed"],"range":["#eeeeee","#a3aea9"]},"legend":null},
      "stroke":{"field":"g","type":"nominal","scale":{"domain":["Unprimed","Primed"],"range":["#cccccc","#8c9894"]},"legend":null},"order":{"field":"g","sort":"descending"}}},
    {"data":{"name":"fits"},"transform":[{"filter":"datum.p=='B'"}],"mark":{"type":"line","color":"#111","strokeWidth":2},"encoding":{"detail":{"field":"c"}}}
   ]}
 ]},
{"title":{"text":"TYPE 2 DIABETES","anchor":"middle","frame":"bounds","fontSize":11,"fontWeight":"normal","offset":11},
 "resolve":{"scale":{"fill":"independent","stroke":"independent"}},
 "spacing":6,
 "hconcat":[
  {"width":134,"height":108,
   "title":{"text":"C","anchor":"start","frame":"bounds","fontSize":10.5,"fontWeight":"bold","offset":2,"dx":-4},
   "encoding":{
    "x":{"field":"t","type":"quantitative","scale":{"domain":[-60,360],"nice":false},"axis":{"values":[-60,0,60,120,180,240,300,360],"title":"Time (s)"}},
    "y":{"field":"v","type":"quantitative","scale":{"domain":[0,3],"nice":false},"axis":{"values":[0,0.5,1,1.5,2,2.5,3],"format":".1f","title":"VO₂ (L/min)"}}},
   "layer":[
    {"data":{"name":"zero"},"transform":[{"filter":"datum.p=='C'"}],"mark":{"type":"rule","strokeDash":[5,3],"color":"#888","strokeWidth":1},"encoding":{"y2":{"field":"v2"}}},
    {"data":{"name":"pts"},"transform":[{"filter":"datum.p=='C'"}],"mark":{"type":"point","shape":"circle","filled":false,"size":14,"strokeWidth":1},
     "encoding":{"fill":{"field":"g","type":"nominal","scale":{"domain":["Unprimed","Primed"],"range":["#eeeeee","#a3aea9"]},"legend":null},
      "stroke":{"field":"g","type":"nominal","scale":{"domain":["Unprimed","Primed"],"range":["#cccccc","#8c9894"]},"legend":null},"order":{"field":"g","sort":"descending"}}},
    {"data":{"name":"fits"},"transform":[{"filter":"datum.p=='C'"}],"mark":{"type":"line","color":"#111","strokeWidth":2},"encoding":{"detail":{"field":"c"}}},
    {"data":{"name":"notes"},"transform":[{"filter":"datum.p=='C'"}],"mark":{"type":"text","align":"left","baseline":"middle","fontSize":8,"color":"#222"},"encoding":{"text":{"field":"s"}}}
   ]},
  {"width":134,"height":108,
   "title":{"text":"D","anchor":"start","frame":"bounds","fontSize":10.5,"fontWeight":"bold","offset":2,"dx":-4},
   "encoding":{
    "x":{"field":"t","type":"quantitative","scale":{"domain":[-60,360],"nice":false},"axis":{"values":[-60,0,60,120,180,240,300,360],"title":"Time (s)"}},
    "y":{"field":"v","type":"quantitative","scale":{"domain":[-20,140],"nice":false},"axis":{"values":[-20,0,20,40,60,80,100,120,140],"title":"VO₂ (% primary phase amplitude)","titleAnchor":"end"}}},
   "layer":[
    {"data":{"name":"zero"},"transform":[{"filter":"datum.p=='D'"}],"mark":{"type":"rule","strokeDash":[5,3],"color":"#888","strokeWidth":1},"encoding":{"y2":{"field":"v2"}}},
    {"data":{"name":"pts"},"transform":[{"filter":"datum.p=='D'"}],"mark":{"type":"point","shape":"circle","filled":false,"size":14,"strokeWidth":1},
     "encoding":{"fill":{"field":"g","type":"nominal","scale":{"domain":["Unprimed","Primed"],"range":["#eeeeee","#a3aea9"]},"legend":null},
      "stroke":{"field":"g","type":"nominal","scale":{"domain":["Unprimed","Primed"],"range":["#cccccc","#8c9894"]},"legend":null},"order":{"field":"g","sort":"descending"}}},
    {"data":{"name":"fits"},"transform":[{"filter":"datum.p=='D'"}],"mark":{"type":"line","color":"#111","strokeWidth":2},"encoding":{"detail":{"field":"c"}}}
   ]}
 ]}
],
"config":{
 "view":{"stroke":null},
 "font":"Liberation Sans",
 "axis":{"grid":false,"domainColor":"#999","tickColor":"#999","tickSize":3,"labelFontSize":7,"labelColor":"#333","titleFontSize":8.5,"titleFontWeight":"normal","titleColor":"#222","labelPadding":2,"titlePadding":4,"labelOverlap":false,"labelFlush":false},
 "title":{"color":"#222"}
}
}
